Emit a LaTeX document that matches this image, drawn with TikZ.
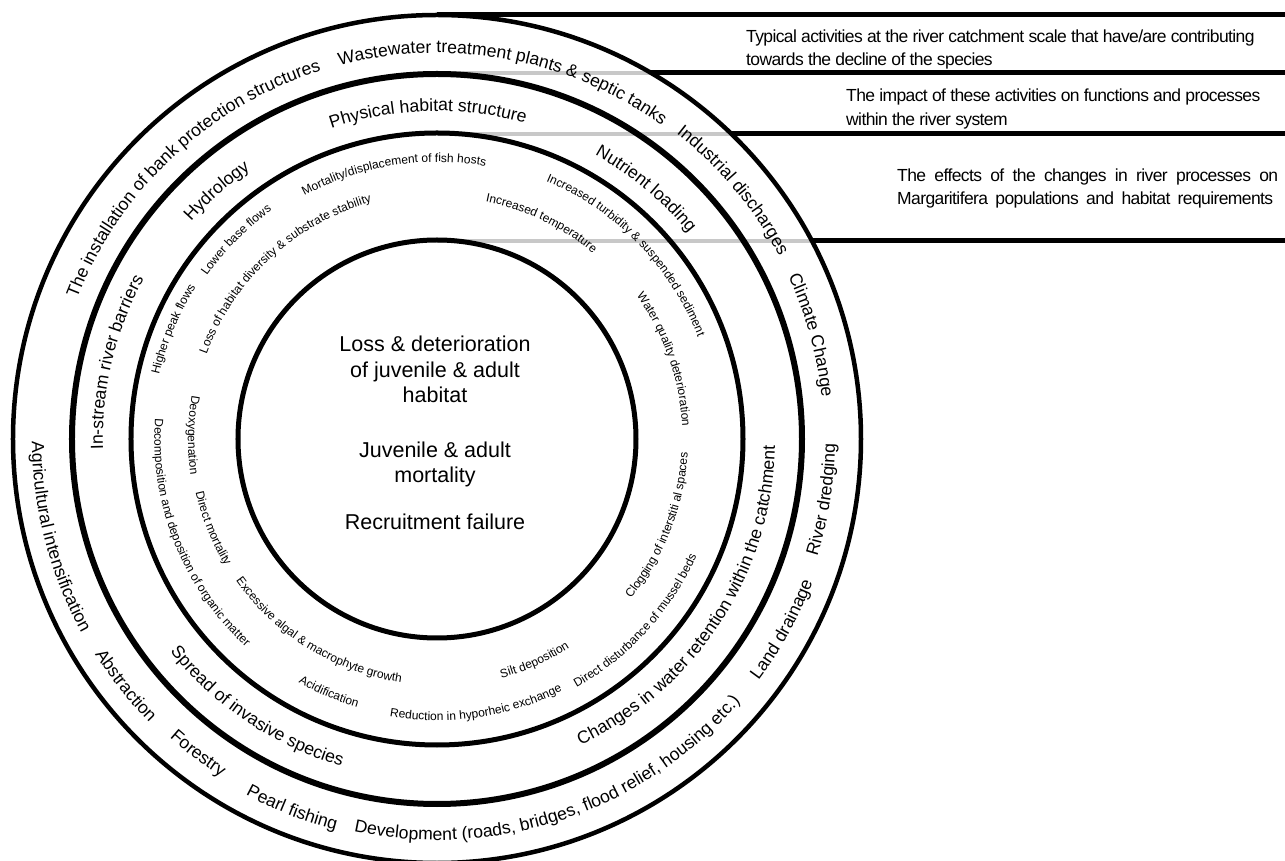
\documentclass[tikz,border=0pt]{standalone}
\usepackage{fontspec}
\setmainfont{Liberation Sans}
\newfontfamily\descfont[LetterSpace=-3.5]{Liberation Sans}
\usetikzlibrary{decorations.text}
\definecolor{guide}{RGB}{200,200,200}
% text on a clockwise arc (tops outward): radius, middle angle, size, text
\newcommand\cwtext[4]{\path[decorate,decoration={text along path,text align=center,text={|\fontsize{#3pt}{#3pt}\selectfont|#4}}] ({#2+85}:#1pt) arc[start angle={#2+85},end angle={#2-85},radius=#1pt];}
% text on a counter-clockwise arc (tops inward)
\newcommand\ccwtext[4]{\path[decorate,decoration={text along path,text align=center,text={|\fontsize{#3pt}{#3pt}\selectfont|#4}}] ({#2-85}:#1pt) arc[start angle={#2-85},end angle={#2+85},radius=#1pt];}
\begin{document}
\begin{tikzpicture}[x=1pt,y=1pt,
  blackline/.style={line width=5pt,black},
  guideline/.style={line width=4pt,guide},
  ringouter/.style={line width=4.5pt,black},
  ringtwo/.style={line width=6pt,black},
  ringthree/.style={line width=5pt,black},
  ringinner/.style={line width=5pt,black},
  ctext/.style={inner sep=0pt,anchor=base,font=\fontsize{21.5pt}{24pt}\selectfont},
  desc/.style={inner sep=0pt,anchor=base west,font=\descfont\fontsize{17.5pt}{21pt}\selectfont}]
\useasboundingbox (-437,-422) rectangle (848,439);
% ---- horizontal guide lines
\coordinate (t0) at (0,424);   \coordinate (t1) at (850,424);
\coordinate (a0) at (0,366);   \coordinate (a1) at (214,366);   \coordinate (a2) at (850,366);
\coordinate (b0) at (0,305);   \coordinate (b1) at (294.5,305); \coordinate (b2) at (850,305);
\coordinate (c0) at (0,198);   \coordinate (c1) at (375,198);   \coordinate (c2) at (850,198);
\draw[guideline] (a0) -- (a1);
\draw[guideline] (b0) -- (b1);
\draw[guideline] (c0) -- (c1);
\draw[blackline] (t0) -- (t1);
\draw[blackline] (a1) -- (a2);
\draw[blackline] (b1) -- (b2);
\draw[blackline] (c1) -- (c2);
% ---- circles
\coordinate (O) at (0,0);
\draw[ringouter] (O) circle[radius=424pt];
\draw[ringtwo]   (O) circle[radius=365pt];
\draw[ringthree] (O) circle[radius=306pt];
\draw[ringinner] (O) circle[radius=199pt];
% ---- ring 1: activities
\cwtext{386}{133.1}{17.6}{The installation of bank protection structures}
\cwtext{386}{79.5}{17.6}{Wastewater treatment plants {\&} septic tanks}
\cwtext{388}{40.0}{17.6}{Industrial discharges}
\cwtext{387}{15.5}{17.6}{Climate Change}
\ccwtext{398}{-8.9}{17.6}{River dredging}
\ccwtext{402}{-28.85}{17.6}{Land drainage}
\ccwtext{401}{-71.4}{17.6}{Development (roads, bridges, flood relief, housing etc.)}
\ccwtext{404}{-111.4}{17.6}{Pearl fishing}
\ccwtext{401}{-127.2}{17.6}{Forestry}
\ccwtext{404}{-141.6}{17.6}{Abstraction}
\ccwtext{405}{-165.5}{17.6}{Agricultural intensification}
% ---- ring 2: processes
\cwtext{328}{91.6}{17.6}{Physical habitat structure}
\cwtext{328}{131.6}{17.6}{Hydrology}
\cwtext{334}{166.6}{17.6}{In-stream river barriers}
\cwtext{325}{50.1}{17.6}{Nutrient loading}
\ccwtext{338}{-33.0}{17.6}{Changes in water retention within the catchment}
\ccwtext{341}{-123.85}{17.6}{Spread of invasive species}
% ---- ring 3: effects
\cwtext{277}{99.25}{12}{Mortality/displacement of fish hosts}
\cwtext{282}{135.25}{12}{Lower base flows}
\cwtext{285}{157.4}{12}{Higher peak flows}
\cwtext{245.5}{132.6}{12}{Loss of habitat diversity {\&} substrate stability}
\cwtext{280}{44.2}{12}{Increased turbidity {\&} suspended sediment}
\cwtext{242.5}{64.2}{12}{Increased temperature}
\cwtext{245.5}{19.3}{12}{Water quality deterioration}
\ccwtext{251}{-21.3}{12}{Clogging of interstiti al spaces}
\ccwtext{285}{-42.5}{12}{Direct disturbance of mussel beds}
\ccwtext{247.5}{-66.25}{12}{Silt deposition}
\ccwtext{281.5}{-81.6}{12}{Reduction in hyporheic exchange}
\ccwtext{280}{-113.1}{12}{Acidification}
\ccwtext{246}{-121.6}{12}{Excessive algal {\&} macrophyte growth}
\ccwtext{282.5}{-158.4}{12}{Decomposition and deposition of organic matter}
\ccwtext{249}{-180.9}{12}{Deoxygenation}
\ccwtext{247}{-158.3}{12}{Direct mortality}
% ---- centre
\node[ctext] (m1) at (-2,87)  {Loss \& deterioration};
\node[ctext] (m2) at (-2,61)  {of juvenile \& adult};
\node[ctext] (m3) at (-2,36)  {habitat};
\node[ctext] (m4) at (-2,-19) {Juvenile \& adult};
\node[ctext] (m5) at (-2,-44) {mortality};
\node[ctext] (m6) at (-2,-91) {Recruitment failure};
% ---- legend texts
\node[desc] (d1) at (309,396) {Typical activities at the river catchment scale that have/are contributing};
\node[desc] (d2) at (309,373) {towards the decline of the species};
\node[desc] (d3) at (409,337) {The impact of these activities on functions and processes};
\node[desc] (d4) at (409,313) {within the river system};
\node[desc] (d5) at (460,257) {\makebox[381pt][s]{The effects of the changes in river processes on}};
\node[desc] (d6) at (460,234) {\makebox[376pt][s]{Margaritifera populations and habitat requirements}};
\end{tikzpicture}
\end{document}
